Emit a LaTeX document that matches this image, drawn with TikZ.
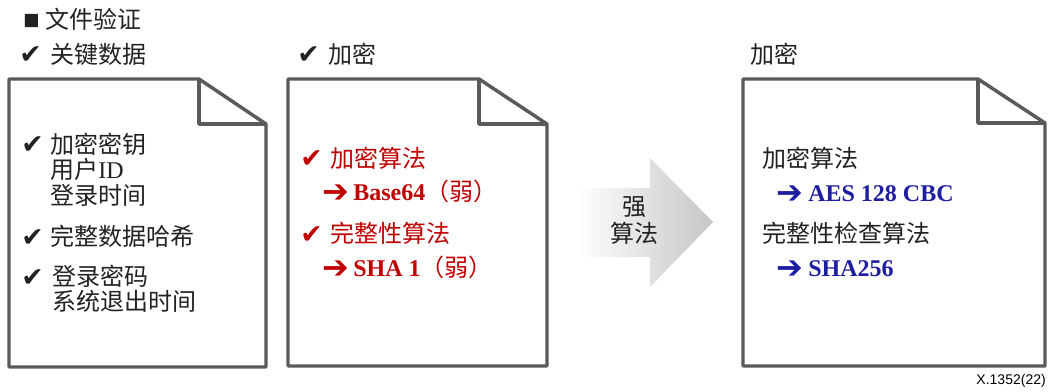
\documentclass[tikz,border=0pt]{standalone}
\usepackage{fontspec}
\setmainfont{Liberation Serif}
\newfontfamily\cjk{Noto Sans CJK SC}
\newfontfamily\sym{DejaVu Sans}
\newfontfamily\lsans{Liberation Sans}
\definecolor{docline}{HTML}{5A5A5A}
\definecolor{wred}{HTML}{C00000}
\definecolor{sblue}{HTML}{1E1EA0}
\definecolor{txt}{HTML}{222222}
\tikzset{
  doc/.style={draw=docline, line width=2.6pt, line join=round, fill=white},
  lbl/.style={anchor=west, inner sep=0pt, text=txt, text height=15.5pt, text depth=0pt, font=\fontsize{18}{19}\selectfont\cjk},
  chk/.style={anchor=west, inner sep=0pt, text=txt, text height=15pt, text depth=0pt, font=\fontsize{20}{21}\selectfont\sym},
  arr/.style={anchor=west, inner sep=0pt, text height=17pt, text depth=0pt, font=\fontsize{24}{25}\selectfont\sym},
  alg/.style={anchor=west, inner sep=0pt, text height=15.5pt, text depth=0pt, font=\fontsize{18}{19}\selectfont\bfseries},
}
\newcommand{\docshape}[7]{%
  % #1 left, #2 top, #3 foldx, #4 foldy, #5 right, #6 bottom, #7 name
  \draw[doc] (#1,#2) -- (#3,#2) -- (#5,#4) -- (#5,#6) -- (#1,#6) -- cycle;
  \draw[doc, fill=none] (#3,#2) -- (#3,#4) -- (#5,#4);
  \coordinate (#7) at (#1,#2);
}
\begin{document}
\begin{tikzpicture}[x=0.75pt,y=-0.75pt]
\useasboundingbox (0,0) rectangle (1049,392);

% headings
\node[chk, text height=10pt, font=\fontsize{13}{14}\selectfont\sym] (sq) at (23,19) {■};
\node[lbl] (h0) at (45,18) {文件验证};
\node[chk] (hc1) at (19,54) {✔};
\node[lbl] (h1) at (50,53) {关键数据};
\node[chk] (hc2) at (297,54) {✔};
\node[lbl] (h2) at (328,53) {加密};
\node[lbl] (h3) at (750,53) {加密};

% documents
\docshape{9}{79}{199}{124}{266}{367}{d1}
\docshape{288}{79}{479}{124}{547}{366}{d2}
\docshape{743}{79}{978}{123}{1045}{366}{d3}

% doc 1 content
\node[chk] (c1) at (21,144) {✔};
\node[lbl] (t11) at (50,143) {加密密钥};
\node[lbl] (t12) at (50,168) {用户\textrm{ID}};
\node[lbl] (t13) at (50,194) {登录时间};
\node[chk] (c2) at (21,236) {✔};
\node[lbl] (t21) at (50,235) {完整数据哈希};
\node[chk] (c3) at (21,276) {✔};
\node[lbl] (t31) at (52,275) {登录密码};
\node[lbl] (t32) at (52,300) {系统退出时间};

% doc 2 content
\node[chk, text=wred] (r1) at (300,158) {✔};
\node[lbl, text=wred] (rt1) at (330,157) {加密算法};
\node[arr, text=wred] (ra1) at (322,191) {➔};
\node[alg, text=wred] (rb1) at (353,190) {Base64{\mdseries\cjk（弱）}};
\node[chk, text=wred] (r2) at (300,233) {✔};
\node[lbl, text=wred] (rt2) at (330,232) {完整性算法};
\node[arr, text=wred] (ra2) at (322,267) {➔};
\node[alg, text=wred] (rb2) at (353,266) {SHA 1{\mdseries\cjk（弱）}};

% strong algorithm arrow
\shade[left color=white, right color=gray!45]
  (577,188) -- (650,188) -- (650,158) -- (713,222) -- (650,287) -- (650,257) -- (577,257) -- cycle;
\node[lbl, anchor=center] (s1) at (634,205) {强};
\node[lbl, anchor=center] (s2) at (634,232) {算法};

% doc 3 content
\node[lbl] (bt1) at (762,157) {加密算法};
\node[arr, text=sblue] (ba1) at (776,192) {➔};
\node[alg, text=sblue] (bb1) at (808,191) {AES 128 CBC};
\node[lbl] (bt2) at (762,232) {完整性检查算法};
\node[arr, text=sblue] (ba2) at (776,267) {➔};
\node[alg, text=sblue] (bb2) at (808,266) {SHA256};

\node[anchor=east, inner sep=0pt, font=\fontsize{10.5}{12}\selectfont\lsans] (ref) at (1046,381) {X.1352(22)};
\end{tikzpicture}
\end{document}
